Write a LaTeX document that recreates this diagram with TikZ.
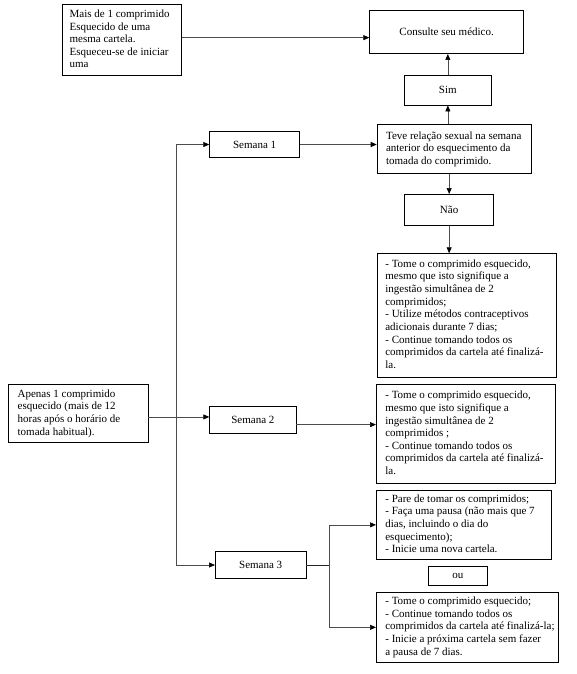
\documentclass[tikz,border=0pt]{standalone}
\usepackage{fontspec}
\setmainfont{Liberation Serif}
\usetikzlibrary{arrows.meta}
\newcommand{\tbx}[2]{\makebox[#1pt][l]{\begin{tabular}{@{}l@{}}#2\end{tabular}}}
\begin{document}
\begin{tikzpicture}[x=1pt,y=-1pt,
  every node/.style={font=\rmfamily\fontsize{11}{12.65}\selectfont},
  box/.style={draw, line width=0.7pt, rectangle, inner sep=0pt, anchor=north west},
  arr/.style={-{Triangle[length=6pt,width=5pt,color=black]}, line width=0.7pt, draw=black!70},
  ln/.style={line width=0.7pt, draw=black!85}]
\useasboundingbox (0,0) rectangle (576,674);

\node[box, minimum width=119.6pt, minimum height=71pt] (A) at (61.7,4.3)
  {\tbx{104.4}{Mais de 1 comprimido\\Esquecido de uma\\mesma cartela.\\Esqueceu-se de iniciar\\uma}};
\node[box, minimum width=154pt, minimum height=43pt] (Cons) at (369.3,10.3) {Consulte seu médico.};
\node[box, minimum width=86.4pt, minimum height=29.4pt] (Sim) at (404.3,75.3) {Sim};
\node[box, minimum width=154.3pt, minimum height=49pt] (Teve) at (376.7,124.3)
  {\tbx{136.3}{Teve relação sexual na semana\\anterior do esquecimento da\\tomada do comprimido.}};
\node[box, minimum width=90pt, minimum height=26.3pt] (S1) at (209.3,131) {Semana 1};
\node[box, minimum width=89pt, minimum height=31.3pt] (Nao) at (404.3,194) {Não};
\node[box, minimum width=179pt, minimum height=123.4pt] (T1) at (376.7,253.3)
  {\tbx{162.4}{- Tome o comprimido esquecido,\\mesmo que isto signifique a\\ingestão simultânea de 2\\comprimidos;\\- Utilize métodos contraceptivos\\adicionais durante 7 dias;\\- Continue tomando todos os\\comprimidos da cartela até finalizá-\\la.}};
\node[box, minimum width=139.4pt, minimum height=58pt] (Ap) at (8.3,384.3)
  {\tbx{121.4}{Apenas 1 comprimido\\esquecido (mais de 12\\horas após o horário de\\tomada habitual).}};
\node[box, minimum width=86.4pt, minimum height=27.3pt] (S2) at (209.3,406) {Semana 2};
\node[box, minimum width=179pt, minimum height=99pt] (T2) at (376,384.3)
  {\tbx{161}{- Tome o comprimido esquecido,\\mesmo que isto signifique a\\ingestão simultânea de 2\\comprimidos ;\\- Continue tomando todos os\\comprimidos da cartela até finalizá-\\la.}};
\node[box, minimum width=90.7pt, minimum height=27.3pt] (S3) at (215,551) {Semana 3};
\node[box, minimum width=175pt, minimum height=69pt] (P) at (376,490)
  {\tbx{157}{- Pare de tomar os comprimidos;\\- Faça uma pausa (não mais que 7\\dias, incluindo o dia do\\esquecimento);\\- Inicie uma nova cartela.}};
\node[box, minimum width=58.4pt, minimum height=19.3pt] (ou) at (428.3,566) {ou};
\node[box, minimum width=182.3pt, minimum height=69.4pt] (Q) at (376,592.3)
  {\tbx{164.3}{- Tome o comprimido esquecido;\\- Continue tomando todos os\\comprimidos da cartela até finalizá-la;\\- Inicie a próxima cartela sem fazer\\a pausa de 7 dias.}};

\coordinate (tr) at (176,0);
\coordinate (br) at (329.3,0);
\draw[arr] ([yshift=2.5pt]A.east) -- ([yshift=2.5pt]A.east -| Cons.west);
\draw[arr] (Sim.south |- Teve.north) -- (Sim.south);
\draw[arr] (Sim.north) -- (Sim.north |- Cons.south);
\draw[arr] (S1.east) -- (S1.east -| Teve.west);
\draw[arr] (Nao.north |- Teve.south) -- (Nao.north);
\draw[arr] (Nao.south) -- (Nao.south |- T1.north);
\draw[arr] (tr |- S3.west) |- (S1.west);
\draw[arr] (tr |- S3.west) -- (S3.west);
\draw[arr] ([yshift=-3.3pt]Ap.east) -- ([yshift=-3.3pt]Ap.east -| S2.west);
\draw[arr] ([yshift=-4.6pt]S2.east) -- ([yshift=-4.6pt]S2.east -| T2.west);
\draw[ln] (S3.east) -- (S3.east -| br);
\draw[arr] (S3.east -| br) |- (P.west);
\draw[arr] (S3.east -| br) |- (Q.west);
\end{tikzpicture}
\end{document}
